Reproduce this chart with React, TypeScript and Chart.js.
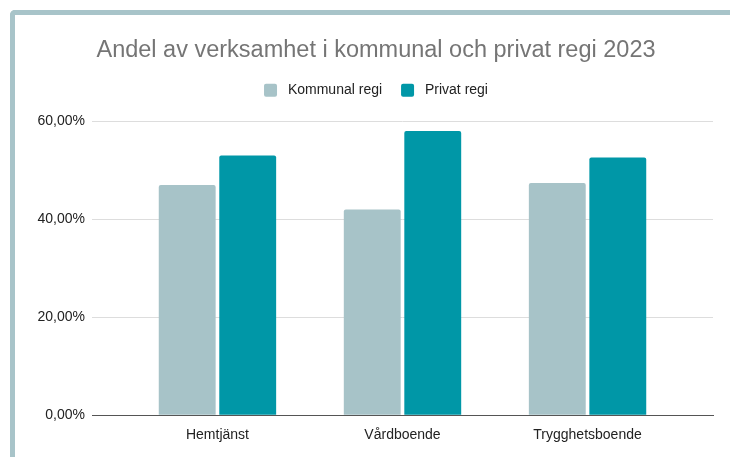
import React, { useEffect, useRef } from "react";
import { Chart, registerables } from "chart.js";

Chart.register(...registerables);

const categories = ["Hemtjänst", "Vårdboende", "Trygghetsboende"];
const kommunalValues = [47.0, 42.0, 47.4];
const privatValues = [53.0, 58.0, 52.6];
const seriesLabels = ["Kommunal regi", "Privat regi"];
const yTicks = [0, 20, 40, 60];
const titleText = "Andel av verksamhet i kommunal och privat regi 2023";

const FONT = "'Liberation Sans', Arial, sans-serif";

const legendGapPlugin = {
  id: "legendGap",
  beforeLayout(chart: any) {
    const l = chart.legend;
    if (l && !l._gapPatched) {
      const f = l.fit.bind(l);
      l.fit = () => {
        f();
        l.height += 14;
      };
      l._gapPatched = true;
    }
  },
};

export default function App() {
  const ref = useRef<HTMLCanvasElement | null>(null);

  useEffect(() => {
    const canvas = ref.current;
    if (!canvas) return;
    const pad = 0.178;
    const chart = new Chart(canvas, {
      type: "bar",
      data: {
        labels: categories,
        datasets: [
          {
            label: seriesLabels[0],
            data: kommunalValues,
            backgroundColor: "#a7c3c8",
            borderRadius: 2,
            categoryPercentage: 0.654,
            barPercentage: 0.94,
          },
          {
            label: seriesLabels[1],
            data: privatValues,
            backgroundColor: "#0097a7",
            borderRadius: 2,
            categoryPercentage: 0.654,
            barPercentage: 0.94,
          },
        ],
      },
      plugins: [legendGapPlugin],
      options: {
        animation: false,
        responsive: false,
        layout: { padding: { left: 22, right: 0, top: 26, bottom: 1 } },
        plugins: {
          title: {
            display: true,
            text: titleText,
            color: "#757575",
            font: { family: FONT, size: 23.5, weight: "normal" },
            padding: { top: 10, bottom: 0 },
          },
          legend: {
            display: true,
            labels: {
              color: "#222222",
              font: { family: FONT, size: 14 },
              boxWidth: 13,
              boxHeight: 13,
              padding: 19,
              useBorderRadius: true,
              borderRadius: 2,
              generateLabels: (c: any) =>
                Chart.defaults.plugins.legend.labels
                  .generateLabels(c)
                  .map((it: any) => ({ ...it, text: " " + it.text })),
            },
          },
          tooltip: { enabled: false },
        },
        scales: {
          x: {
            grid: { display: false, drawTicks: false },
            border: { display: true, color: "#555555", width: 1 },
            ticks: {
              color: "#222222",
              font: { family: FONT, size: 14 },
              padding: 12,
            },
            afterBuildTicks: (scale: any) => {
              scale._startValue = -0.5 - pad;
              scale._valueRange = categories.length + 2 * pad;
            },
          },
          y: {
            min: 0,
            max: 60,
            afterBuildTicks: (scale: any) => {
              scale.ticks = yTicks.map((v) => ({ value: v }));
            },
            afterFit: (scale: any) => {
              scale.width = 70;
            },
            grid: { color: "#dddddd", drawTicks: false },
            border: { display: false },
            ticks: {
              color: "#222222",
              font: { family: FONT, size: 14 },
              padding: 7,
              callback: (v: any) => Number(v).toFixed(2).replace(".", ",") + "%",
            },
          },
          yRight: {
            position: "right",
            display: true,
            min: 0,
            max: 60,
            grid: { display: false, drawOnChartArea: false, drawTicks: false },
            border: { display: false },
            ticks: { display: false },
            afterFit: (scale: any) => {
              scale.width = 17;
            },
          },
        },
      },
    });
    return () => chart.destroy();
  }, []);

  return (
    <div style={{ position: "absolute", left: 0, top: 0, width: 730, height: 457, overflow: "hidden", background: "#ffffff" }}>
      <div
        style={{
          position: "absolute",
          left: 10,
          top: 10,
          width: 740,
          height: 470,
          borderTop: "5px solid #a8c4c9",
          borderLeft: "5px solid #a8c4c9",
          borderTopLeftRadius: 5,
          boxSizing: "border-box",
        }}
      />
      <canvas ref={ref} width={730} height={457} style={{ position: "absolute", left: 0, top: 0 }} />
    </div>
  );
}
